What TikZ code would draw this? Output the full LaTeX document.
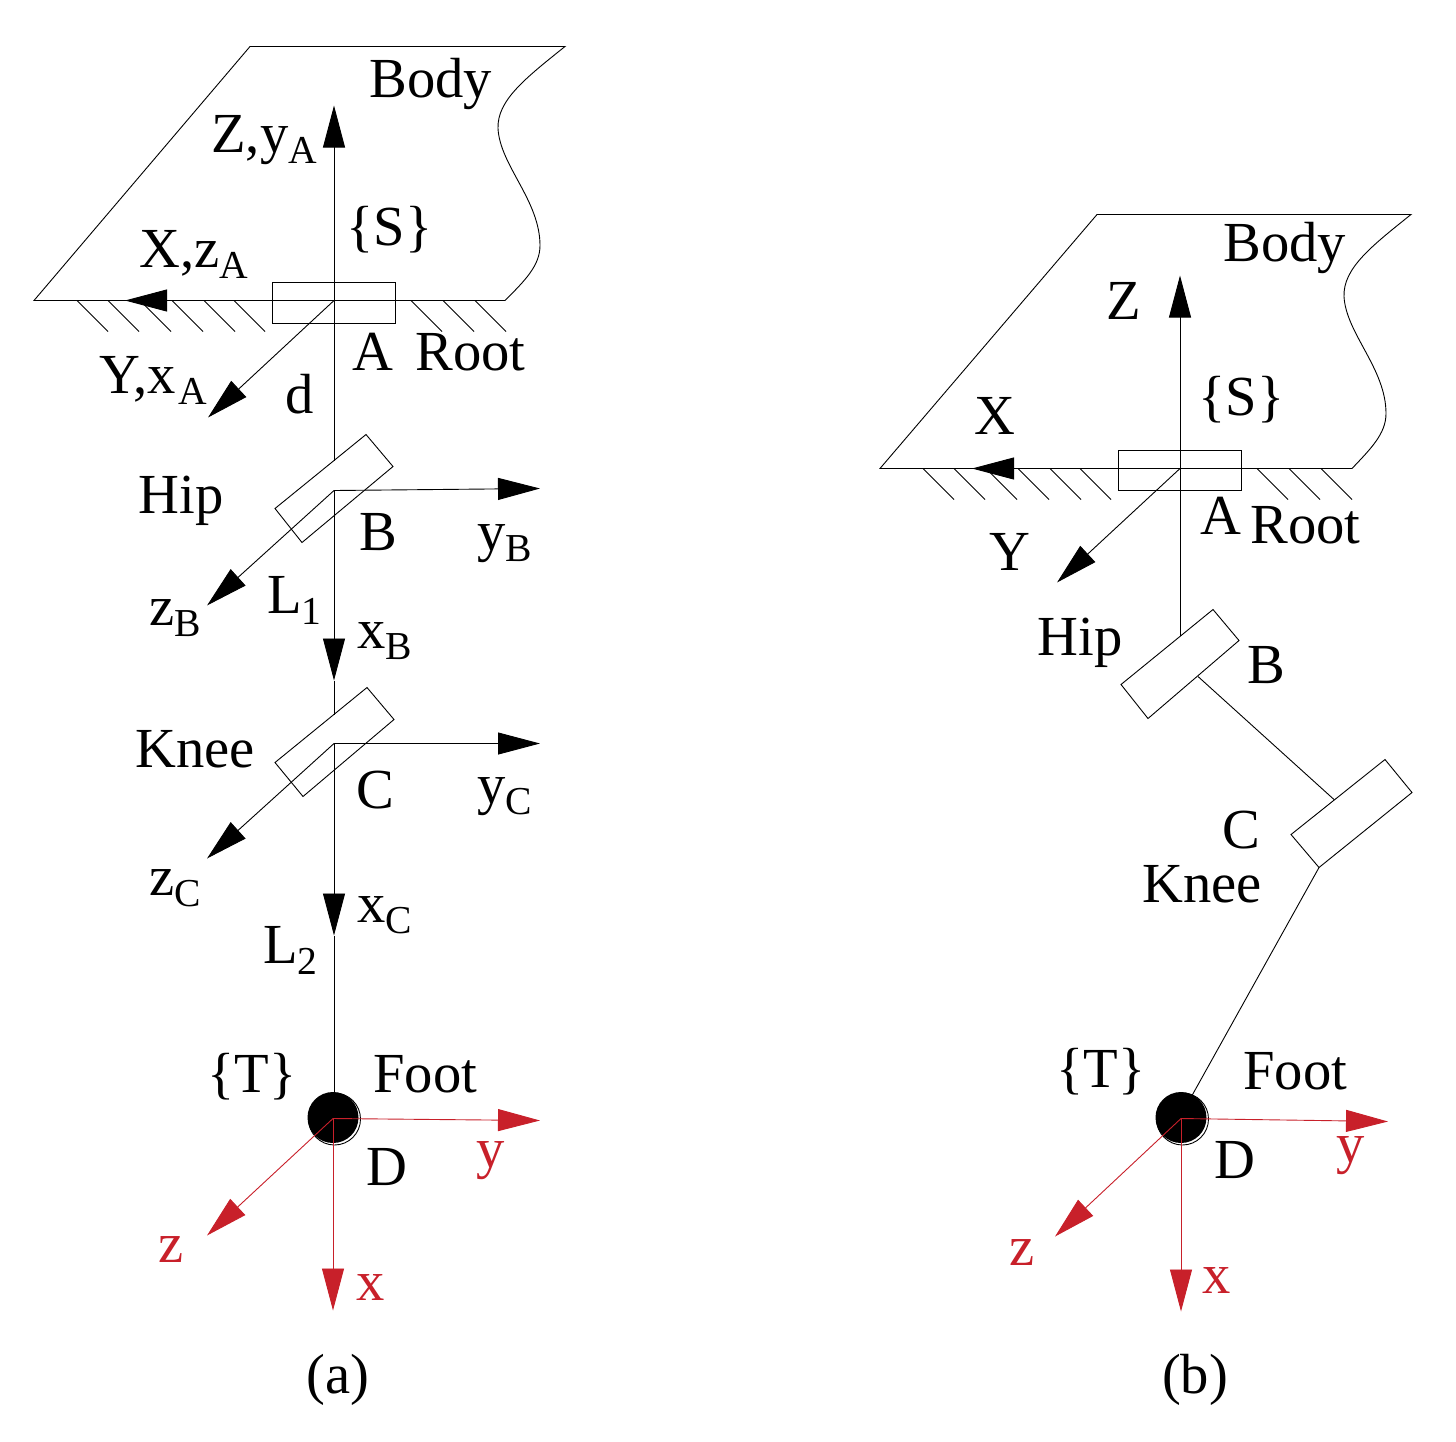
\documentclass[tikz,border=0pt]{standalone}
\usepackage{fontspec}
\setmainfont{Liberation Serif}
\usetikzlibrary{arrows.meta}
\definecolor{axisred}{HTML}{C8202A}
\newcommand{\sbs}[1]{\raisebox{-0.2em}{\fontsize{19.8}{21}\selectfont #1}}
\tikzset{
  x=0.5pt,y=-0.5pt,
  ln/.style={line width=0.45pt,black},
  arw/.style={line width=0.45pt,black,-{Triangle[length=21pt,width=11pt]}},
  rarw/.style={line width=0.45pt,axisred,-{Triangle[length=21pt,width=11pt]}},
  lbl/.style={anchor=base west,inner sep=0pt,xshift=-0.5pt,font=\fontsize{28.3}{30}\selectfont,text=black},
  rlbl/.style={lbl,text=axisred},
  captionlbl/.style={anchor=base,inner sep=0pt,font=\fontsize{28.3}{30}\selectfont},
}
\begin{document}
\begin{tikzpicture}
\useasboundingbox (0,-0.5) rectangle (1456,1440.5);
% ---------- panel (a) ----------
\begin{scope}
\draw[ln] (34,300) -- (250,46) -- (565,46)
  .. controls (525,78) and (497,100) .. (498,128)
  .. controls (500,165) and (540,200) .. (540,245)
  .. controls (540,265) and (525,280) .. (505,300) -- cycle;
\foreach \h in {77,108,140,172,204,234,411,443,475}
  \draw[ln] (\h,300) -- ++(31,31);
\draw[ln] (272,282) rectangle (395,323);
\coordinate (Aa) at (334,300);
\coordinate (Za) at (334,105);
\coordinate (Xa) at (125,300);
\coordinate (Ya) at (208,417);
\draw[arw] (Aa) -- (Za);
\draw[arw] (Aa) -- (Xa);
\draw[arw] (Aa) -- (Ya);
\coordinate (Hipa) at (334,460);
\draw[ln] (Aa) -- (Hipa);
\draw[ln] (366,434) -- (393,466) -- (302,542) -- (275,508) -- cycle;
\coordinate (Ba) at (334,490);
\coordinate (yBa) at (540,488);
\coordinate (xBa) at (334,680);
\coordinate (zBa) at (207,605);
\draw[arw] (Ba) -- (yBa);
\draw[arw] (Ba) -- (xBa);
\draw[arw] (Ba) -- (zBa);
\coordinate (Kneea) at (334,714);
\draw[ln] (xBa) -- (Kneea);
\draw[ln] (367,687) -- (394,719) -- (303,796) -- (275,762) -- cycle;
\coordinate (Ca) at (334,743);
\coordinate (yCa) at (540,743);
\coordinate (xCa) at (334,935);
\coordinate (zCa) at (207,858);
\draw[arw] (Ca) -- (yCa);
\draw[arw] (Ca) -- (xCa);
\draw[arw] (Ca) -- (zCa);
\coordinate (Da) at (333,1118);
\draw[ln] (xCa) -- (334,1095);
\draw[ln,fill=white] (334.5,1118.5) circle (26);
\fill[black] (333,1117) circle (25.5);
\coordinate (ya) at (540,1120);
\coordinate (xa) at (333,1310);
\coordinate (za) at (207,1235);
\draw[rarw] (Da) -- (ya);
\draw[rarw] (Da) -- (xa);
\draw[rarw] (Da) -- (za);
\node[lbl] (body1) at (370,97) {Body};
\node[lbl] (zy) at (212,152) {Z,y\sbs{A}};
\node[lbl] (s1) at (347,245) {\{S\}};
\node[lbl] (xz) at (140,267) {X,z\sbs{A}};
\node[lbl] (a1) at (353,370) {A};
\node[lbl] (root1) at (416,370) {Root};
\node[lbl] (yx) at (100,393) {Y,x\kern1.5pt\sbs{A}};
\node[lbl] (d1) at (286,413) {d};
\node[lbl] (hip1) at (139,513) {Hip};
\node[lbl] (b1) at (360,550) {B};
\node[lbl] (yb) at (478,550) {y\sbs{B}};
\node[lbl] (zb) at (150,625) {z\sbs{B}};
\node[lbl] (l1) at (268,613) {L\sbs{1}};
\node[lbl] (xb) at (358,648) {x\sbs{B}};
\node[lbl] (knee1) at (136,767) {Knee};
\node[lbl] (c1) at (357,808) {C};
\node[lbl] (yc) at (478,803) {y\sbs{C}};
\node[lbl] (zc) at (150,895) {z\sbs{C}};
\node[lbl] (xc) at (358,922) {x\sbs{C}};
\node[lbl] (l2) at (264,963) {L\sbs{2}};
\node[lbl] (t1) at (208,1092) {\{T\}};
\node[lbl] (foot1) at (374,1092) {Foot};
\node[lbl] (d2) at (367,1185) {D};
\node[rlbl] (ry1) at (477,1167) {y};
\node[rlbl] (rz1) at (159,1262) {z};
\node[rlbl] (rx1) at (357,1300) {x};
\node[captionlbl] (capa) at (338,1393) {(a)};
\end{scope}
% ---------- panel (b) ----------
\draw[ln] (880,468) -- (1097,214) -- (1411,214)
  .. controls (1371,246) and (1343,268) .. (1344,296)
  .. controls (1346,333) and (1386,368) .. (1386,413)
  .. controls (1386,433) and (1371,448) .. (1352,468) -- cycle;
\foreach \h in {923,954,986,1018,1050,1080,1257,1289,1321}
  \draw[ln] (\h,468) -- ++(31,31);
\draw[ln] (1118,450) rectangle (1241,490);
\coordinate (Ab) at (1180,468);
\coordinate (Zb) at (1180,275);
\coordinate (Xb) at (972,468);
\coordinate (Yb) at (1057,582);
\draw[arw] (Ab) -- (Zb);
\draw[arw] (Ab) -- (Xb);
\draw[arw] (Ab) -- (Yb);
\coordinate (Hipb) at (1180,635);
\draw[ln] (Ab) -- (Hipb);
\draw[ln] (1213,609) -- (1239,640) -- (1148,718) -- (1121,684) -- cycle;
\coordinate (Bb) at (1198,676);
\coordinate (Cb) at (1334,799);
\draw[ln] (Bb) -- (Cb);
\draw[ln] (1385,759) -- (1412,792) -- (1319,867) -- (1291,834) -- cycle;
\coordinate (Kb) at (1319,867);
\coordinate (Db) at (1181,1118);
\draw[ln] (Kb) -- (1192,1095);
\draw[ln,fill=white] (1182.5,1118.5) circle (26);
\fill[black] (1181,1117) circle (25.5);
\coordinate (yb2) at (1388,1121);
\coordinate (xb2) at (1181,1311);
\coordinate (zb2) at (1055,1236);
\draw[rarw] (Db) -- (yb2);
\draw[rarw] (Db) -- (xb2);
\draw[rarw] (Db) -- (zb2);
\node[lbl] (body2) at (1224,261) {Body};
\node[lbl] (zz) at (1107,319) {Z};
\node[lbl] (s2) at (1199,415) {\{S\}};
\node[lbl] (xx) at (975,434) {X};
\node[lbl] (yy) at (990,570) {Y};
\node[lbl] (a2) at (1201,534) {A};
\node[lbl] (root2) at (1251,543) {Root};
\node[lbl] (hip2) at (1038,655) {Hip};
\node[lbl] (b2) at (1248,683) {B};
\node[lbl] (c2) at (1223,848) {C};
\node[lbl] (knee2) at (1143,902) {Knee};
\node[lbl] (t2) at (1057,1087) {\{T\}};
\node[lbl] (foot2) at (1244,1089) {Foot};
\node[lbl] (d3) at (1215,1178) {D};
\node[rlbl] (ry2) at (1337,1162) {y};
\node[rlbl] (rz2) at (1010,1265) {z};
\node[rlbl] (rx2) at (1203,1293) {x};
\node[captionlbl] (capb) at (1195,1393) {(b)};
\end{tikzpicture}
\end{document}
